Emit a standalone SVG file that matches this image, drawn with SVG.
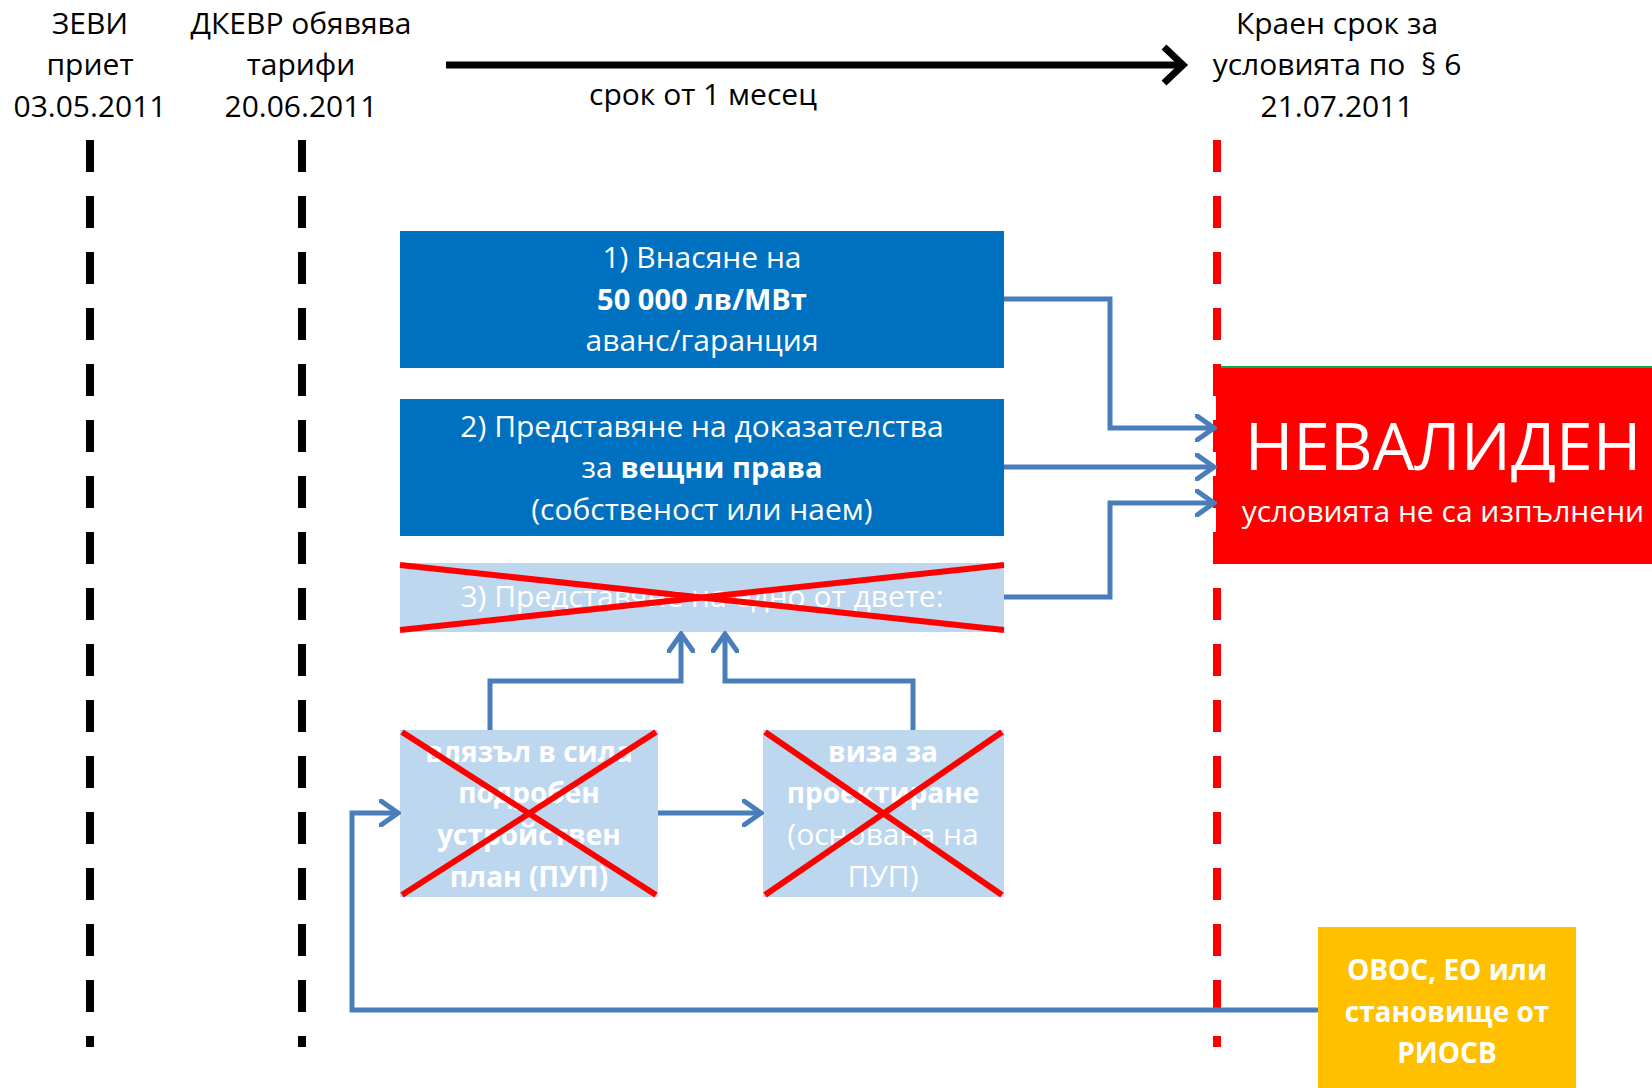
<svg xmlns="http://www.w3.org/2000/svg" width="1652" height="1088" viewBox="0 0 1652 1088">
<style>
text{font-family:"Open Sans","Noto Sans","DejaVu Sans",sans-serif;text-anchor:middle}
.t{font-size:30px;fill:#000}
.w{font-size:30px;fill:#fff}
.b{font-weight:bold;font-size:29px}
.s{font-weight:bold;font-size:28px}
.big{font-size:66px}
.dash{stroke-width:8;stroke-dasharray:32 24;fill:none}
.con{stroke:#4A7EBB;stroke-width:5;fill:none;marker-end:url(#ah)}
.x{stroke:#FF0000;stroke-width:6}
</style>
<defs>
<marker id="ah" markerUnits="userSpaceOnUse" viewBox="0 0 22 28" refX="19" refY="14" markerWidth="22" markerHeight="28" orient="auto">
<path d="M2,2 L19,14 L2,26" stroke="#4A7EBB" stroke-width="5" fill="none" stroke-linecap="round"/>
</marker>
</defs>
<rect width="1652" height="1088" fill="#fff"/>

<g id="timeline">
<line class="dash" x1="90" y1="140" x2="90" y2="1047" stroke="#000"/>
<line class="dash" x1="302" y1="140" x2="302" y2="1047" stroke="#000"/>
<line x1="446" y1="65" x2="1182" y2="65" stroke="#000" stroke-width="7"/>
<polyline points="1164,47 1183,65 1164,83" stroke="#000" stroke-width="7" fill="none"/>
<text class="t" x="703" y="105">срок от 1 месец</text>
</g>

<g id="label-zevi">
<text class="t" x="90" y="34">ЗЕВИ</text>
<text class="t" x="90" y="75">приет</text>
<text class="t" x="90" y="117">03.05.2011</text>
</g>
<g id="label-dkevr">
<text class="t" x="301" y="34">ДКЕВР обявява</text>
<text class="t" x="301" y="75">тарифи</text>
<text class="t" x="301" y="117">20.06.2011</text>
</g>
<g id="label-deadline">
<text class="t" x="1337" y="34">Краен срок за</text>
<text class="t" x="1337" y="75">условията по&#160; § 6</text>
<text class="t" x="1337" y="117">21.07.2011</text>
</g>

<g id="node-invalid">
<rect x="1216" y="367" width="436" height="197" fill="#FF0000"/>
<line x1="1216" y1="367" x2="1652" y2="367" stroke="#00B050" stroke-width="2"/>
<text class="w big" x="1443" y="470">НЕВАЛИДЕН</text>
<text class="w" x="1443" y="522">условията не са изпълнени</text>
</g>
<line class="dash" x1="1217" y1="140" x2="1217" y2="1047" stroke="#FF0000"/>

<g id="node-1">
<rect x="400" y="231" width="604" height="137" fill="#0070C0"/>
<text class="w" x="702" y="268">1) Внасяне на</text>
<text class="w b" x="702" y="310">50 000 лв/МВт</text>
<text class="w" x="702" y="351">аванс/гаранция</text>
</g>
<g id="node-2">
<rect x="400" y="399" width="604" height="137" fill="#0070C0"/>
<text class="w" x="702" y="437">2) Представяне на доказателства</text>
<text class="w" x="702" y="478">за <tspan class="b">вещни права</tspan></text>
<text class="w" x="702" y="520">(собственост или наем)</text>
</g>
<g id="node-3">
<rect x="400" y="563" width="604" height="69" fill="#BDD7EE"/>
<text class="w" x="702" y="607">3) Представяне на едно от двете:</text>
<line class="x" x1="400" y1="565" x2="1004" y2="630"/>
<line class="x" x1="400" y1="630" x2="1004" y2="565"/>
</g>
<g id="node-pup">
<rect x="400" y="730" width="258" height="167" fill="#BDD7EE"/>
<text class="w s" x="529" y="762">влязъл в сила</text>
<text class="w s" x="529" y="803">подробен</text>
<text class="w s" x="529" y="845">устройствен</text>
<text class="w s" x="529" y="887">план (ПУП)</text>
<line class="x" x1="402" y1="732" x2="656" y2="895"/>
<line class="x" x1="402" y1="895" x2="656" y2="732"/>
</g>
<g id="node-viza">
<rect x="763" y="730" width="241" height="167" fill="#BDD7EE"/>
<text class="w s" x="883" y="762">виза за</text>
<text class="w s" x="883" y="803">проектиране</text>
<text class="w" x="883" y="845">(основана на</text>
<text class="w" x="883" y="887">ПУП)</text>
<line class="x" x1="765" y1="732" x2="1002" y2="895"/>
<line class="x" x1="765" y1="895" x2="1002" y2="732"/>
</g>

<g id="connectors">
<polyline class="con" points="1004,299 1110,299 1110,428 1214,428"/>
<polyline class="con" points="1004,467 1214,467"/>
<polyline class="con" points="1004,597 1110,597 1110,503 1214,503"/>
<polyline class="con" points="490,730 490,681 681,681 681,634"/>
<polyline class="con" points="913,730 913,681 725,681 725,634"/>
<polyline class="con" points="658,813 761,813"/>
<polyline class="con" points="1318,1010 352,1010 352,813 398,813"/>
</g>

<g id="node-ovos">
<rect x="1318" y="927" width="258" height="161" fill="#FFC000"/>
<text class="w s" x="1447" y="980">ОВОС, ЕО или</text>
<text class="w s" x="1447" y="1022">становище от</text>
<text class="w s" x="1447" y="1063">РИОСВ</text>
</g>
</svg>
